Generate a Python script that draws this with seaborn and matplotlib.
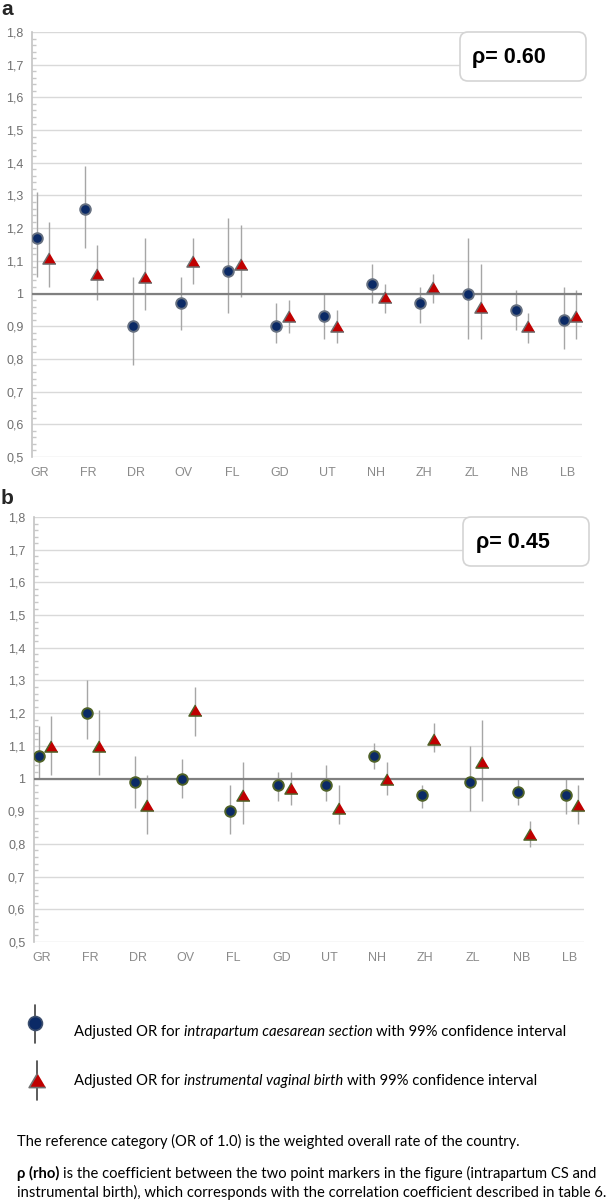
import numpy as np
import pandas as pd
import matplotlib
matplotlib.use("Agg")
import matplotlib.pyplot as plt
import seaborn as sns
from matplotlib.patches import FancyBboxPatch
from matplotlib.lines import Line2D
from matplotlib.transforms import IdentityTransform
from matplotlib.ticker import FuncFormatter, MultipleLocator

regions = ["GR", "FR", "DR", "OV", "FL", "GD", "UT", "NH", "ZH", "ZL", "NB", "LB"]

# panel a : intrapartum caesarean section (circles)
cs_a = [1.17, 1.26, 0.90, 0.97, 1.07, 0.90, 0.93, 1.03, 0.97, 1.00, 0.95, 0.92]
cs_a_lo = [1.05, 1.14, 0.78, 0.89, 0.94, 0.85, 0.86, 0.97, 0.91, 0.86, 0.89, 0.83]
cs_a_hi = [1.31, 1.39, 1.05, 1.05, 1.23, 0.97, 1.00, 1.09, 1.02, 1.17, 1.01, 1.02]
# panel a : instrumental vaginal birth (triangles)
ivb_a = [1.11, 1.06, 1.05, 1.10, 1.09, 0.93, 0.90, 0.99, 1.02, 0.96, 0.90, 0.93]
ivb_a_lo = [1.02, 0.98, 0.95, 1.03, 0.99, 0.88, 0.85, 0.94, 0.97, 0.86, 0.85, 0.86]
ivb_a_hi = [1.22, 1.15, 1.17, 1.17, 1.21, 0.98, 0.95, 1.03, 1.06, 1.09, 0.94, 1.01]

# panel b
cs_b = [1.07, 1.20, 0.99, 1.00, 0.90, 0.98, 0.98, 1.07, 0.95, 0.99, 0.96, 0.95]
cs_b_lo = [1.00, 1.12, 0.91, 0.94, 0.83, 0.93, 0.93, 1.03, 0.91, 0.90, 0.92, 0.89]
cs_b_hi = [1.16, 1.30, 1.07, 1.06, 0.98, 1.02, 1.04, 1.11, 0.98, 1.10, 1.00, 1.00]
ivb_b = [1.10, 1.10, 0.92, 1.21, 0.95, 0.97, 0.91, 1.00, 1.12, 1.05, 0.83, 0.92]
ivb_b_lo = [1.01, 1.01, 0.83, 1.13, 0.86, 0.92, 0.86, 0.95, 1.08, 0.93, 0.79, 0.86]
ivb_b_hi = [1.19, 1.21, 1.01, 1.28, 1.05, 1.02, 0.98, 1.05, 1.17, 1.18, 0.87, 0.98]

rho_a = "0.60"
rho_b = "0.45"

NAVY = "#0b2a66"
RED = "#c00000"
CI_GREY = "#a6a6a6"
TRI = [(0, 0.85), (-1, -0.85), (1, -0.85)]
W, H = 608, 1203

sns.set_theme(style="white")
plt.rcParams["font.family"] = ["Liberation Sans", "DejaVu Sans"]
body_font = ["Lato", "DejaVu Sans"]


def px(x, y):
    return x / W, 1 - y / H


def yfmt(v, _):
    if abs(v - 1) < 1e-9:
        return "1"
    return f"{v:.1f}".replace(".", ",")


def draw_panel(ax, cs, cs_lo, cs_hi, ivb, ivb_lo, ivb_hi, edge_cs, edge_tri):
    idx = np.arange(len(regions))
    df = pd.DataFrame({
        "pos": np.concatenate([idx, idx + 0.26]),
        "series": ["cs"] * len(regions) + ["ivb"] * len(regions),
        "OR": cs + ivb,
        "lo": cs_lo + ivb_lo,
        "hi": cs_hi + ivb_hi,
    })
    ax.vlines(df["pos"], df["lo"], df["hi"], color=CI_GREY, lw=1.0, zorder=2)
    ax.axhline(1.0, color="#808080", lw=1.6, zorder=3)
    sns.scatterplot(data=df[df.series == "cs"], x="pos", y="OR", marker="o", s=58,
                    color=NAVY, edgecolor=edge_cs, linewidth=1.4, ax=ax, zorder=5, legend=False)
    sns.scatterplot(data=df[df.series == "ivb"], x="pos", y="OR", marker=TRI, s=88,
                    color=RED, edgecolor=edge_tri, linewidth=1.1, ax=ax, zorder=5, legend=False)

    ax.set_xlim(-0.105, 11.37)
    ax.set_ylim(0.5, 1.8)
    ax.set_xticks(idx + 0.07)
    ax.set_xticklabels(regions)
    ax.yaxis.set_major_locator(MultipleLocator(0.1))
    ax.yaxis.set_minor_locator(MultipleLocator(0.02))
    ax.yaxis.set_major_formatter(FuncFormatter(yfmt))
    ax.grid(axis="y", color="#d9d9d9", lw=1.0, zorder=0)
    ax.set_axisbelow(True)
    for s in ["top", "right", "bottom"]:
        ax.spines[s].set_visible(False)
    ax.spines["left"].set_color("#c4c4c4")
    ax.spines["left"].set_linewidth(1.2)
    ax.tick_params(axis="x", length=0, pad=7, labelsize=9, labelcolor="#8a8a8a")
    ax.tick_params(axis="y", which="major", length=3, direction="out", color="#c4c4c4",
                   pad=3, labelsize=9, labelcolor="#707070")
    ax.tick_params(axis="y", which="minor", length=3, direction="in", color="#c8c8c8", left=True)
    ax.set_xlabel("")
    ax.set_ylabel("")


def rho_box(x0, y0, x1, y1, tx, rho):
    box = FancyBboxPatch((x0, H - y1), x1 - x0, y1 - y0,
                         boxstyle="round,pad=0,rounding_size=8",
                         transform=IdentityTransform(), fc="white", ec="#d4d4d4", lw=1.2,
                         zorder=10)
    fig.add_artist(box)
    fig.text(*px(tx, (y0 + y1) / 2 + 1), f"ρ= {rho}", fontsize=15.5, fontweight="bold",
             family=["Liberation Sans", "DejaVu Sans"], color="black", va="center",
             ha="left", zorder=11)


def rich_line(pieces, x0, y0, size, target=None):
    r = fig.canvas.get_renderer()

    def draw(sz):
        p1 = fig.text(0, 0, "x x", fontsize=sz, family=body_font)
        p2 = fig.text(0, 0, "xx", fontsize=sz, family=body_font)
        gap = p1.get_window_extent(r).width - p2.get_window_extent(r).width
        p1.remove()
        p2.remove()
        x = x0
        made = []
        for txt, style, weight in pieces:
            t = fig.text(*px(x, y0), txt, fontsize=sz, fontstyle=style, fontweight=weight,
                         family=body_font, color="black", va="baseline", ha="left")
            made.append(t)
            x += t.get_window_extent(r).width + gap
        return made, x - gap

    made, end = draw(size)
    if target is not None:
        for t in made:
            t.remove()
        made, end = draw(size * (target - x0) / (end - x0))
    return made


fig = plt.figure(figsize=(W / 100, H / 100), dpi=100)
ax_a = fig.add_axes([31.8 / W, 1 - 457 / H, 549.8 / W, 425 / H])
ax_b = fig.add_axes([33.7 / W, 1 - 942 / H, 549.8 / W, 425 / H])

draw_panel(ax_a, cs_a, cs_a_lo, cs_a_hi, ivb_a, ivb_a_lo, ivb_a_hi, "#667080", "#6b6b6b")
draw_panel(ax_b, cs_b, cs_b_lo, cs_b_hi, ivb_b, ivb_b_lo, ivb_b_hi, "#4f6228", "#4f6228")

fig.text(*px(1, 15), "a", fontsize=15, fontweight="bold", va="baseline", ha="left")
fig.text(*px(1, 504), "b", fontsize=15, fontweight="bold", va="baseline", ha="left")

rho_box(460, 32, 586, 81, 472, rho_a)
rho_box(463, 517, 589, 566, 476, rho_b)

# legend
fig.add_artist(Line2D([35 / W, 35 / W], [1 - 1005 / H, 1 - 1043 / H], color="#404040", lw=1.2,
                      transform=fig.transFigure))
fig.add_artist(Line2D([35 / W], [1 - 1023 / H], marker="o", markersize=10, color=NAVY,
                      markeredgecolor="#3d4f6e", markeredgewidth=1.2, transform=fig.transFigure))
fig.add_artist(Line2D([37 / W, 37 / W], [1 - 1061 / H, 1 - 1100 / H], color="#404040", lw=1.2,
                      transform=fig.transFigure))
fig.add_artist(Line2D([37 / W], [1 - 1080 / H], marker=TRI, markersize=12, color=RED,
                      markeredgecolor="#707070", markeredgewidth=1.2, transform=fig.transFigure))

rich_line([("Adjusted OR for", "normal", "normal"),
           ("intrapartum caesarean section", "italic", "normal"),
           ("with 99% confidence interval", "normal", "normal")], 74, 1036, 10, target=568)
rich_line([("Adjusted OR for", "normal", "normal"),
           ("instrumental vaginal birth", "italic", "normal"),
           ("with 99% confidence interval", "normal", "normal")], 74, 1085, 10, target=539)

rich_line([("The reference category (OR of 1.0) is the weighted overall rate of the country.",
            "normal", "normal")], 17, 1146, 10, target=520)
rich_line([("ρ (rho)", "normal", "bold"),
           ("is the coefficient between the two point markers in the figure (intrapartum CS and",
            "normal", "normal")], 17, 1178, 10, target=597)
rich_line([("instrumental birth), which corresponds with the correlation coefficient described in table 6.",
            "normal", "normal")], 17, 1197, 10, target=606)

fig.savefig("out.png", dpi=100)
